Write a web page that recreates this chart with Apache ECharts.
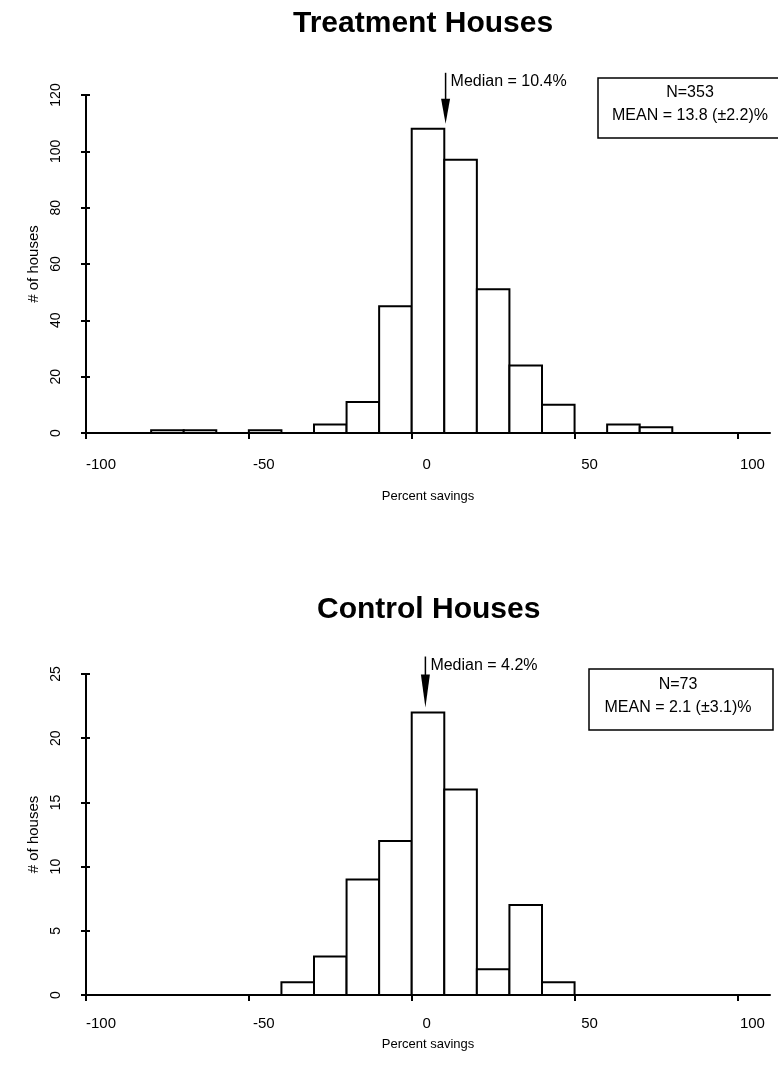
<!DOCTYPE html>
<html><head><meta charset="utf-8">
<script src="https://cdn.jsdelivr.net/npm/echarts@6/dist/echarts.min.js"></script>
<style>html,body{margin:0;padding:0;background:#fff}#c{width:778px;height:1068px}</style>
</head><body><div id="c"></div>
<script>
// ---- data ----
const binWidth = 10;
const treatBinStarts = [-80, -70, -50, -30, -20, -10, 0, 10, 20, 30, 40, 60, 70];
const treatCounts    = [1, 1, 1, 3, 11, 45, 108, 97, 51, 24, 10, 3, 2];
const controlBinStarts = [-40, -30, -20, -10, 0, 10, 20, 30, 40];
const controlCounts    = [1, 3, 9, 12, 22, 16, 2, 7, 1];
const xTickValues = [-100, -50, 0, 50, 100];
const treatMedian = 10.4, controlMedian = 4.2;
const treatTitle = 'Treatment Houses', controlTitle = 'Control Houses';
const treatMedianText = 'Median = 10.4%', controlMedianText = 'Median = 4.2%';
const treatBoxText = ['N=353', 'MEAN = 13.8 (±2.2)%'];
const controlBoxText = ['N=73', 'MEAN = 2.1 (±3.1)%'];
const xName = 'Percent savings', yName = '# of houses';

const FONT = 'Liberation Sans';
const chart = echarts.init(document.getElementById('c'), null, {renderer: 'canvas'});

function renderBar(params, api) {
  const s = api.value(0), v = api.value(1);
  const p0 = api.coord([s, 0]);
  const p1 = api.coord([s + binWidth, v]);
  return {type: 'rect', shape: {x: p0[0], y: p1[1], width: p1[0] - p0[0], height: p0[1] - p1[1]},
    style: {fill: '#fff', stroke: '#000', lineWidth: 2}};
}
function xAxisCfg(gi, margin, gap) {
  return {type: 'value', gridIndex: gi, min: -100, max: 110, interval: 50,
    name: xName, nameLocation: 'middle', nameGap: gap,
    nameTextStyle: {fontFamily: FONT, fontSize: 13, color: '#000'},
    axisLine: {show: true, onZero: false, lineStyle: {color: '#000', width: 2}},
    axisTick: {show: true, length: 6, customValues: xTickValues, lineStyle: {color: '#000', width: 2}},
    axisLabel: {customValues: xTickValues, margin: margin, fontFamily: FONT, fontSize: 15, color: '#000', padding: [0, 0, 0, 30]},
    splitLine: {show: false}};
}
function yAxisCfg(gi, max, interval) {
  return {type: 'value', gridIndex: gi, min: 0, max: max, interval: interval, position: 'left',
    name: yName, nameLocation: 'middle', nameGap: 42, nameRotate: 90,
    nameTextStyle: {fontFamily: FONT, fontSize: 15, color: '#000'},
    axisLine: {show: true, onZero: false, lineStyle: {color: '#000', width: 2}},
    axisTick: {show: true, length: 5, lineStyle: {color: '#000', width: 2}},
    axisLabel: {rotate: 90, margin: 23, fontFamily: FONT, fontSize: 14, color: '#000'},
    splitLine: {show: false}};
}
function yInnerCfg(gi, max, interval) {
  return {type: 'value', gridIndex: gi, min: 0, max: max, interval: interval, position: 'left',
    axisLine: {show: false, onZero: false}, axisLabel: {show: false}, splitLine: {show: false},
    axisTick: {show: true, inside: true, length: 4, lineStyle: {color: '#000', width: 2}}};
}

chart.setOption({
  animation: false,
  backgroundColor: '#fff',
  title: [
    {text: treatTitle, left: 288, top: 4, textStyle: {fontFamily: FONT, fontSize: 30, fontWeight: 'bold', color: '#000'}},
    {text: controlTitle, left: 312, top: 590, textStyle: {fontFamily: FONT, fontSize: 30, fontWeight: 'bold', color: '#000'}}
  ],
  grid: [
    {left: 86, top: 95, width: 684, height: 338},
    {left: 86, top: 674, width: 684, height: 321}
  ],
  xAxis: [xAxisCfg(0, 24, 57), xAxisCfg(1, 21, 43)],
  yAxis: [yAxisCfg(0, 120, 20), yInnerCfg(0, 120, 20), yAxisCfg(1, 25, 5), yInnerCfg(1, 25, 5)],
  series: [
    {type: 'custom', xAxisIndex: 0, yAxisIndex: 0, renderItem: renderBar,
      data: treatBinStarts.map((s, i) => [s, treatCounts[i]])},
    {type: 'custom', xAxisIndex: 1, yAxisIndex: 2, renderItem: renderBar,
      data: controlBinStarts.map((s, i) => [s, controlCounts[i]])}
  ]
});

function medianGraphics(gi, median, peak, text, headH) {
  const p = chart.convertToPixel({gridIndex: gi}, [median, peak]);
  const x = p[0], tip = p[1] - 5, top = p[1] - 56;
  return [
    {type: 'line', shape: {x1: x, y1: top, x2: x, y2: tip - headH + 2}, style: {stroke: '#000', lineWidth: 1.5}},
    {type: 'polygon', shape: {points: [[x - 4.5, tip - headH], [x + 4.5, tip - headH], [x, tip]]}, style: {fill: '#000'}},
    {type: 'text', x: x + 5, y: top + 9, style: {text: text, fontFamily: FONT, fontSize: 16, fill: '#000', verticalAlign: 'middle', align: 'left'}}
  ];
}
function boxGraphics(x, y, w, h, lines) {
  return [
    {type: 'rect', shape: {x: x, y: y, width: w, height: h}, style: {fill: '#fff', stroke: '#000', lineWidth: 1.5}},
    {type: 'text', x: x + w / 2 - 3, y: y + h * 0.25, style: {text: lines[0], fontFamily: FONT, fontSize: 16, fill: '#000', align: 'center', verticalAlign: 'middle'}},
    {type: 'text', x: x + w / 2 - 3, y: y + h * 0.63, style: {text: lines[1], fontFamily: FONT, fontSize: 16, fill: '#000', align: 'center', verticalAlign: 'middle'}}
  ];
}
const treatPeak = Math.max(...treatCounts), controlPeak = Math.max(...controlCounts);
chart.setOption({
  graphic: [].concat(
    medianGraphics(0, treatMedian, treatPeak, treatMedianText, 25),
    medianGraphics(1, controlMedian, controlPeak, controlMedianText, 33),
    boxGraphics(598, 78, 190, 60, treatBoxText),
    boxGraphics(589, 669, 184, 61, controlBoxText)
  )
});
</script>
</body></html>
